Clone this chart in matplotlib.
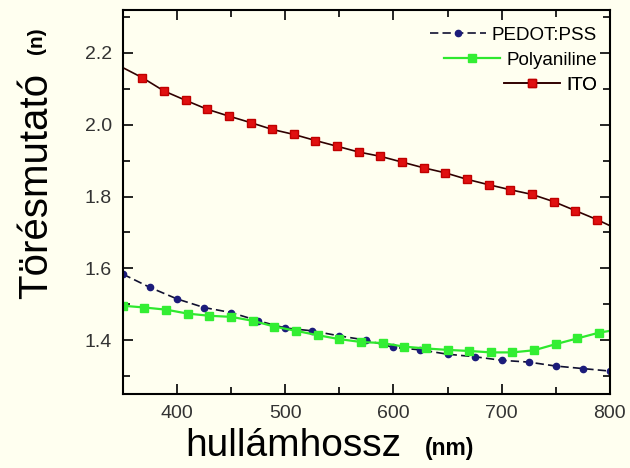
import matplotlib.pyplot as plt
import numpy as np
from matplotlib.ticker import MultipleLocator

# refractive index vs wavelength
pedot_x = [350, 375, 400, 425, 450, 475, 500, 525, 550, 575, 600, 625, 650, 675, 700, 725, 750, 775, 800]
pedot_n = [1.584, 1.547, 1.515, 1.491, 1.477, 1.454, 1.434, 1.426, 1.412, 1.400, 1.380, 1.373,
           1.361, 1.354, 1.344, 1.339, 1.328, 1.321, 1.314]

pani_x = [350, 370, 390, 410, 430, 450, 470, 490, 510, 530, 550, 570, 590, 610, 630, 650, 670,
          690, 710, 730, 750, 770, 790, 800]
pani_n = [1.496, 1.491, 1.485, 1.474, 1.468, 1.465, 1.454, 1.438, 1.426, 1.414, 1.403, 1.395,
          1.392, 1.382, 1.377, 1.373, 1.370, 1.366, 1.366, 1.372, 1.389, 1.405, 1.421, 1.426]

ito_x = [350, 368, 388, 408, 428, 448, 468, 488, 508, 528, 548, 568, 588, 608, 628, 648, 668,
         688, 708, 728, 748, 768, 788, 800]
ito_n = [2.159, 2.131, 2.094, 2.068, 2.043, 2.024, 2.006, 1.987, 1.973, 1.956, 1.940, 1.924,
         1.912, 1.896, 1.880, 1.866, 1.848, 1.833, 1.819, 1.806, 1.786, 1.761, 1.736, 1.719]

bg = '#fffff0'
plt.rcParams['font.family'] = ['Liberation Sans', 'DejaVu Sans']

fig = plt.figure(figsize=(6.3, 4.68), dpi=100, facecolor=bg)
ax = fig.add_axes([0.195, 0.158, 0.773, 0.821], facecolor=bg)

l1, = ax.plot(pedot_x, pedot_n, color='#101030', ls=(0, (5, 2.5)), lw=1.2,
              marker='o', ms=4.5, mfc='#1c1c7a', mec='#1c1c7a', label='PEDOT:PSS')
l2, = ax.plot(pani_x, pani_n, color='#2ee82e', lw=1.6, marker='s', ms=6,
              mfc='#33ee33', mec='#33ee33', markevery=slice(0, -1), label='Polyaniline')
l3, = ax.plot(ito_x, ito_n, color='#300000', lw=1.2, marker='s', ms=6,
              mfc='#e01010', mec='#c00000', markevery=slice(1, -1), label='ITO')

ax.set_xlim(350, 800)
ax.set_ylim(1.25, 2.32)
ax.xaxis.set_major_locator(MultipleLocator(100))
ax.xaxis.set_minor_locator(MultipleLocator(50))
ax.yaxis.set_major_locator(MultipleLocator(0.2))
ax.yaxis.set_minor_locator(MultipleLocator(0.1))
ax.yaxis.set_major_formatter(plt.FormatStrFormatter('%.1f'))
ax.tick_params(which='both', direction='in', top=True, right=True, labelsize=14,
               width=1.2, colors='black')
ax.tick_params(which='major', length=7, pad=8)
ax.tick_params(which='minor', length=5)
for tl in ax.get_yticklabels():
    tl.set_color('#333333')
for tl in ax.get_xticklabels():
    tl.set_color('#333333')
for s in ax.spines.values():
    s.set_linewidth(1.5)

# one legend per row so each entry is right aligned
ys = [0.99, 0.925, 0.86]
for h, y in zip([l1, l2, l3], ys):
    leg = ax.legend(handles=[h], loc='upper right', bbox_to_anchor=(1.0, y), frameon=False,
                    fontsize=13.5, handlelength=3.0, handletextpad=0.3, borderpad=0.2)
    ax.add_artist(leg)

# axis titles
fig.text(0.057, 0.603, 'Törésmutató', rotation=90, fontsize=29, ha='center', va='center')
fig.text(0.058, 0.912, '(n)', rotation=90, fontsize=15, fontweight='bold', ha='center', va='center')
fig.text(0.466, 0.048, 'hullámhossz', fontsize=28, ha='center', va='center')
fig.text(0.714, 0.042, '(nm)', fontsize=16.5, fontweight='bold', ha='center', va='center')

fig.savefig('out.png', dpi=100, facecolor=bg)
